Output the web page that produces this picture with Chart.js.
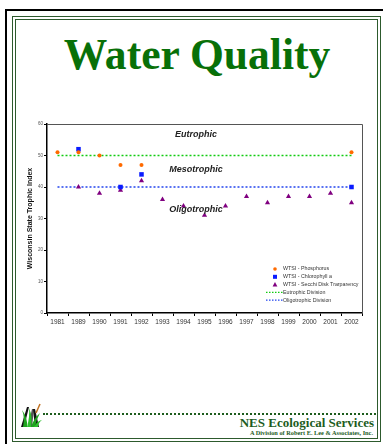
<!DOCTYPE html>
<html lang="en">
<head>
  <meta charset="UTF-8">
  <title>Water Quality</title>
  <script src="https://cdn.jsdelivr.net/npm/chart.js"></script>
  <style>
    body { margin: 0; width: 383px; height: 444px; background: #fff; position: relative; overflow: hidden; }
    .frame-black { position: absolute; left: 5px; top: 9px; width: 400px; height: 460px; border-top: 2px solid #000; border-left: 2px solid #000; }
    .frame-outer { position: absolute; left: 12px; top: 16px; width: 367px; height: 424px; border: 1px solid #2d5a2d; }
    .frame-inner { position: absolute; left: 15px; top: 19px; width: 361px; height: 418px; border: 1px solid #2d5a2d; }
    .title { position: absolute; left: 0; top: 33px; width: 394px; text-align: center; font: bold 44px "Liberation Serif", "Times New Roman", serif; line-height: 44px; color: #087008; transform: scaleX(0.99); transform-origin: 197px 0; }
    #box { position: absolute; left: 15px; top: 115px; width: 355px; height: 220px; }
    .dots { position: absolute; left: 43px; top: 413px; width: 333px; border-top: 2px dotted #1d5c1d; }
    .nes { position: absolute; right: 9px; top: 416px; font: bold 13px "Liberation Serif", serif; line-height: 13px; color: #1d5c1d; }
    .sub { position: absolute; right: 10px; top: 429px; font: bold 6.3px "Liberation Serif", serif; line-height: 7px; color: #1d5c1d; white-space: nowrap; }
    .logo { position: absolute; left: 19px; top: 401px; }
  </style>
</head>
<body>
  <div class="frame-black"></div>
  <div class="frame-outer"></div>
  <div class="frame-inner"></div>
  <div class="title">Water Quality</div>

  <div id="box"><canvas id="wtsi"></canvas></div>

  <svg class="logo" width="26" height="28" viewBox="0 0 26 28">
    <path d="M2 26 L8 6 L10 6 L5 26 Z" fill="#111"/>
    <path d="M9 26 L13 8 L15 8 L13 26 Z" fill="#555"/>
    <path d="M16 26 L14 8 L16 8 L20 26 Z" fill="#111"/>
    <path d="M4 26 Q6 16 3 9 Q9 17 8 26 Z" fill="#1fa31f"/>
    <path d="M8 26 Q11 15 10 7 Q14 16 12 26 Z" fill="#2cc02c"/>
    <path d="M12 26 Q15 17 21 12 Q17 19 16 26 Z" fill="#1fa31f"/>
    <path d="M15 26 Q18 20 23 19 Q19 22 19 26 Z" fill="#2cc02c"/>
    <path d="M17 12 L21 3" stroke="#c07020" stroke-width="1.5"/>
  </svg>
  <div class="dots"></div>
  <div class="nes">NES Ecological Services</div>
  <div class="sub">A Division of Robert E. Lee &amp; Associates, Inc.</div>

  <script>
    // sampling years (categories)
    const years = ['1981', '1989', '1990', '1991', '1992', '1993', '1994', '1995',
                   '1996', '1997', '1998', '1999', '2000', '2001', '2002'];

    // WTSI values, null where not sampled
    const phosphorus  = [51, 51, 50, 47, 47, null, null, null, null, null, null, null, null, null, 51];
    const chlorophyll = [null, 52, null, 40, 44, null, null, null, null, null, null, null, null, null, 40];
    const secchi      = [null, 40, 38, 39, 42, 36, 34, 31, 34, 37, 35, 37, 37, 38, 35];

    // trophic division thresholds
    const eutrophicDivision = 50;
    const oligotrophicDivision = 40;

    // zone names and where they sit on the index scale
    const zoneNames = ['Eutrophic', 'Mesotrophic', 'Oligotrophic'];
    const zoneValues = [56.8, 45.7, 32.7];
    const zoneCategory = 6.6;

    const seriesNames = ['WTSI - Phosphorus', 'WTSI - Chlorophyll a', 'WTSI - Secchi Disk Trarparency',
                         'Eutrophic Division', 'Oligotrophic Division'];

    const ORANGE = '#ff6a00';
    const BLUE = '#0a1cff';
    const PURPLE = '#800080';
    const GREEN = '#11cc11';
    const DOTBLUE = '#2244ee';

    // grey top / right edges of the plot box
    const plotFrame = {
      id: 'plotFrame',
      beforeDatasetsDraw(chart) {
        const { ctx, chartArea: a } = chart;
        ctx.save();
        ctx.strokeStyle = '#555';
        ctx.lineWidth = 1;
        ctx.beginPath();
        ctx.moveTo(a.left, a.top + 0.5);
        ctx.lineTo(a.right + 0.5, a.top + 0.5);
        ctx.lineTo(a.right + 0.5, a.bottom);
        ctx.stroke();
        ctx.restore();
      }
    };

    // zone names in the plot
    const zoneText = {
      id: 'zoneText',
      afterDatasetsDraw(chart) {
        const { ctx, scales } = chart;
        ctx.save();
        ctx.font = 'italic bold 9px "Liberation Sans", Arial, sans-serif';
        ctx.fillStyle = '#222';
        ctx.textAlign = 'center';
        ctx.textBaseline = 'middle';
        zoneNames.forEach((name, i) => {
          ctx.fillText(name, scales.x.getPixelForValue(zoneCategory), scales.y.getPixelForValue(zoneValues[i]));
        });
        ctx.restore();
      }
    };

    // small legend in the lower right corner of the plot
    const cornerLegend = {
      id: 'cornerLegend',
      afterDraw(chart) {
        const { ctx, chartArea: a } = chart;
        const mx = a.right - 87;
        const tx = a.right - 79;
        const y0 = a.bottom - 44;
        const step = 7.8;
        ctx.save();
        ctx.font = '5.3px "Liberation Sans", Arial, sans-serif';
        ctx.textBaseline = 'middle';
        seriesNames.forEach((name, i) => {
          const y = y0 + i * step;
          const ds = chart.data.datasets.find(d => d.label === name);
          if (i === 0) {
            ctx.fillStyle = ORANGE;
            ctx.beginPath(); ctx.arc(mx, y, 1.8, 0, Math.PI * 2); ctx.fill();
          } else if (i === 1) {
            ctx.fillStyle = BLUE;
            ctx.fillRect(mx - 2, y - 2, 4, 4);
          } else if (i === 2) {
            ctx.fillStyle = PURPLE;
            ctx.beginPath(); ctx.moveTo(mx, y - 2.6); ctx.lineTo(mx + 2.4, y + 1.8); ctx.lineTo(mx - 2.4, y + 1.8); ctx.closePath(); ctx.fill();
          } else {
            ctx.strokeStyle = ds.borderColor;
            ctx.lineWidth = 1.2;
            ctx.setLineDash([1.5, 1.5]);
            ctx.beginPath(); ctx.moveTo(mx - 9, y); ctx.lineTo(tx, y); ctx.stroke();
            ctx.setLineDash([]);
          }
          ctx.fillStyle = '#333';
          ctx.fillText(name, tx, y);
        });
        ctx.restore();
      }
    };

    const ctx = document.getElementById('wtsi').getContext('2d');
    const chart = new Chart(ctx, {
      type: 'line',
      data: {
        labels: years,
        datasets: [
          { label: seriesNames[0], data: phosphorus, showLine: false, pointStyle: 'circle', pointRadius: 2,
            backgroundColor: ORANGE, borderColor: ORANGE, pointBorderWidth: 0, order: 1 },
          { label: seriesNames[1], data: chlorophyll, showLine: false, pointStyle: 'rect', pointRadius: 3.2,
            backgroundColor: BLUE, borderColor: BLUE, pointBorderWidth: 0, order: 1 },
          { label: seriesNames[2], data: secchi, showLine: false, pointStyle: 'triangle', pointRadius: 3,
            backgroundColor: PURPLE, borderColor: PURPLE, pointBorderWidth: 0, order: 1 },
          { label: seriesNames[3], data: years.map(() => eutrophicDivision), borderColor: GREEN,
            borderWidth: 1.3, borderDash: [2, 2], pointRadius: 0, order: 2 },
          { label: seriesNames[4], data: years.map(() => oligotrophicDivision), borderColor: DOTBLUE,
            borderWidth: 1.3, borderDash: [2, 2], pointRadius: 0, order: 2 }
        ]
      },
      options: {
        responsive: true,
        maintainAspectRatio: false,
        animation: false,
        layout: { padding: { left: 0, right: 8, top: 9, bottom: 0 } },
        plugins: { legend: { display: false }, tooltip: { enabled: false } },
        scales: {
          x: {
            offset: true,
            grid: { offset: true, drawOnChartArea: false, tickLength: 3, color: '#000' },
            border: { color: '#000', width: 1.5 },
            ticks: { color: '#333', padding: 2, maxRotation: 0, autoSkip: false,
                     font: { family: '"Liberation Sans", Arial, sans-serif', size: 6.5 } },
            afterFit(scale) { scale.height = 22; }
          },
          y: {
            min: 0,
            max: 60,
            ticks: { stepSize: 10, color: '#555', padding: 1,
                     font: { family: '"Liberation Sans", Arial, sans-serif', size: 4.5 } },
            grid: { drawOnChartArea: false, tickLength: 3, color: '#000' },
            border: { color: '#000', width: 1.5 },
            title: { display: true, text: 'Wisconsin State Trophic Index', color: '#111',
                     padding: { top: 11, bottom: 0 },
                     font: { family: '"Liberation Sans", Arial, sans-serif', size: 7, weight: 'bold' } },
            afterFit(scale) { scale.width = 32; }
          }
        }
      },
      plugins: [plotFrame, zoneText, cornerLegend]
    });
  </script>
</body>
</html>
